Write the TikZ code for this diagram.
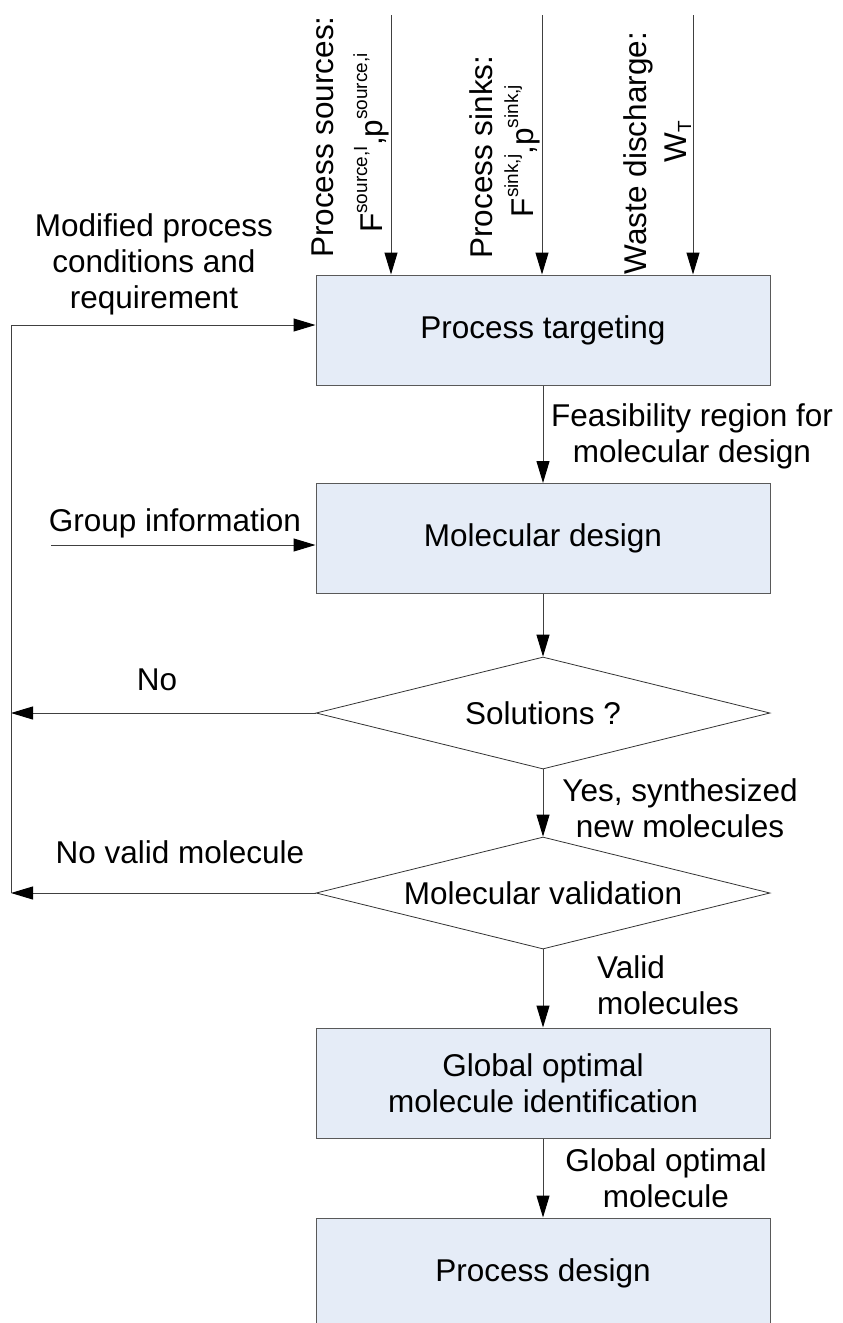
\documentclass[tikz,border=0pt]{standalone}
\usepackage{fontspec}
\setmainfont{Liberation Sans}
\usetikzlibrary{shapes.geometric,arrows.meta,calc}
\definecolor{boxfill}{RGB}{229,236,247}
\newcommand{\hiup}[1]{\raisebox{15pt}{\fontsize{19}{19}\selectfont #1}}
\newcommand{\lowdn}[1]{\raisebox{-5pt}{\fontsize{19}{19}\selectfont #1}}

\begin{document}
\begin{tikzpicture}[x=1pt,y=-1pt,
  every node/.style={font=\fontsize{31.5}{36}\selectfont,inner sep=0pt},
  procbox/.style={draw=black!65,fill=boxfill,line width=1pt,minimum width=454pt,minimum height=110pt,align=center},
  decision/.style={diamond,draw=black!80,line width=0.8pt,aspect=4,minimum width=454pt,minimum height=112pt},
  flow/.style={draw=black!75,line width=1pt,-{Triangle[length=22pt,width=13pt,color=black]}},
  note/.style={align=center}]
          \useasboundingbox (0,0) rectangle (843,1323);
          %BOXES
          \node[procbox] (tgt) at (543,330) {Process targeting};
          \node[procbox] (mol) at (543,538.5) {Molecular design};
          \node[decision] (sol) at (543,713) {Solutions ?};
          \node[decision] (val) at (543,893) {Molecular validation};
          \node[procbox] (glob) at (543,1083) {Global optimal\\molecule identification};
          \node[procbox] (pdes) at (543,1273) {Process design};
          \draw[flow] (tgt) -- (mol);
          \draw[flow] (mol) -- (sol);
          \draw[flow] (sol) -- (val);
          \draw[flow] (val) -- (glob);
          \draw[flow] (glob) -- (pdes);
          %INPUTS
          \foreach \xx/\nm in {391/inA,542/inB,693/inC}
            {\coordinate (\nm) at (\xx,15);
             \draw[flow] (\nm) -- (tgt.north -| \nm);}
          \node[rotate=90,anchor=base] (srcA) at (333,137) {Process sources:};
          \node[rotate=90,anchor=base] (srcB) at (382,143) {F\hiup{source,I},p\hiup{source,i}};
          \node[rotate=90,anchor=base] (snkA) at (492,157) {Process sinks:};
          \node[rotate=90,anchor=base] (snkB) at (533,151) {F\hiup{sink,j},p\hiup{sink,j}};
          \node[rotate=90,anchor=base] (wstA) at (646,153) {Waste discharge:};
          \node[rotate=90,anchor=base] (wstB) at (686,142) {W\lowdn{T}};
          %FEEDBACK
          \coordinate (fbTop) at (11,325);
          \coordinate (fbNo) at (11,713);
          \coordinate (fbVal) at (11,893);
          \coordinate (grp) at (51,545);
          \draw[flow] (sol.west) -- (fbNo);
          \draw[flow] (val.west) -- (fbVal);
          \draw[flow] (fbVal) -- (fbTop) -- (tgt.west |- fbTop);
          \draw[flow] (grp) -- (mol.west |- grp);
          %LABELS
          \node[note] (modif) at (154,264) {Modified process\\conditions and\\requirement};
          \node (grpinfo) at (175,523) {Group information};
          \node[note] (feas) at (692,436) {Feasibility region for\\molecular design};
          \node (no) at (157,680) {No};
          \node[note] (yes) at (680,808) {Yes, synthesized\\new molecules};
          \node (noval) at (180,852) {No valid molecule};
          \node[align=left,anchor=west] (valid) at (597,985) {Valid\\molecules};
          \node[note] (gopt) at (666,1178) {Global optimal\\molecule};
\end{tikzpicture}
\end{document}
